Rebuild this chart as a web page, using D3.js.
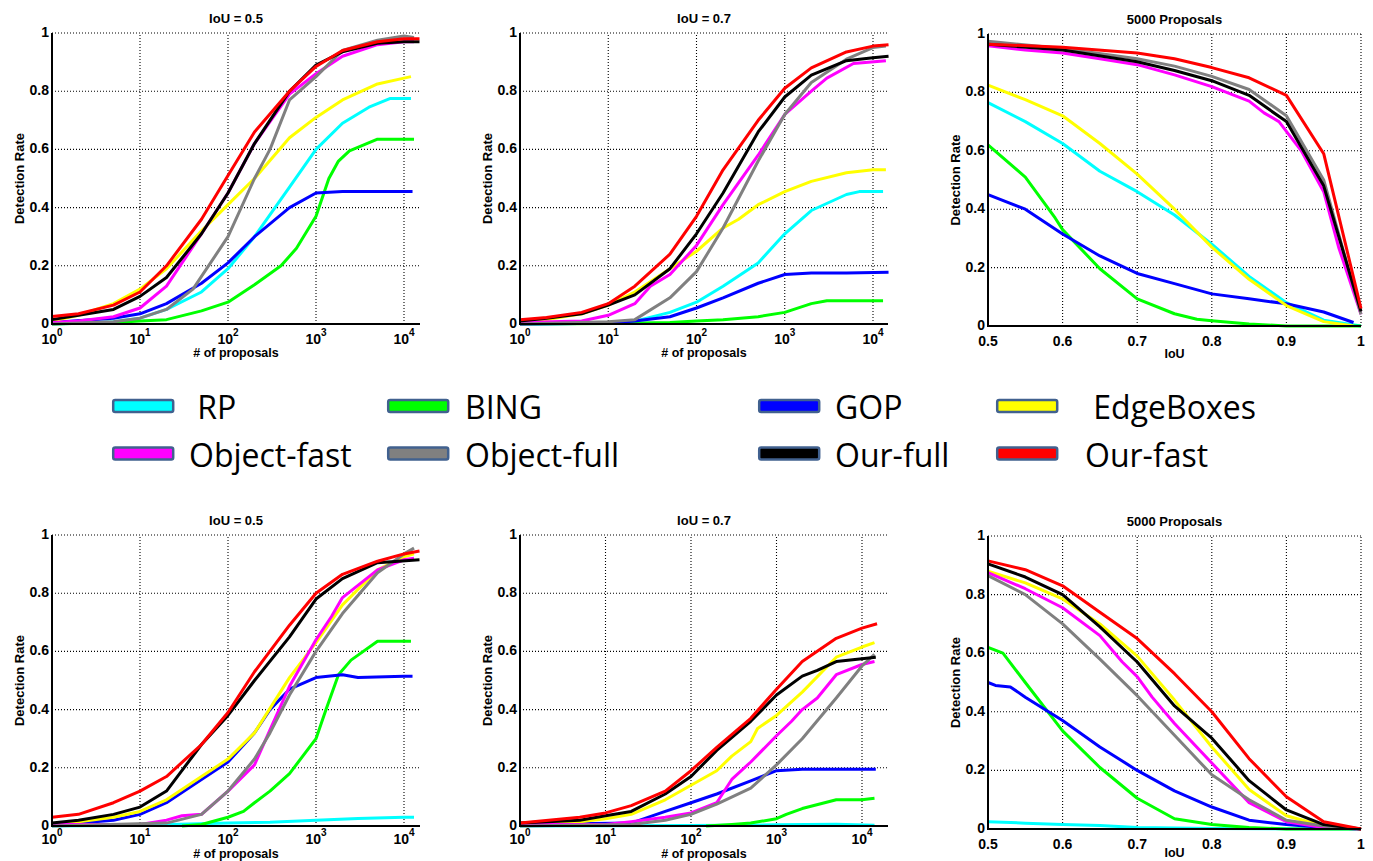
<!DOCTYPE html>
<html>
<head>
<meta charset="utf-8">
<script src="https://cdn.jsdelivr.net/npm/d3@7"></script>
<style>
  html, body { margin: 0; padding: 0; background: #fff; }
  svg { display: block; }
  .tick-lbl { font-family: "Liberation Sans", Arial, sans-serif; font-weight: bold; font-size: 14px; fill: #000; }
  .ttl { font-family: "Liberation Sans", Arial, sans-serif; font-weight: bold; font-size: 13px; fill: #000; }
  .axlbl { font-family: "Liberation Sans", Arial, sans-serif; font-weight: bold; font-size: 13px; fill: #000; }
  .xlbl { font-family: "Liberation Sans", Arial, sans-serif; font-weight: bold; font-size: 12.5px; fill: #000; }
  .leg { font-family: "Open Sans", sans-serif; font-size: 32px; fill: #000; white-space: pre; }
</style>
</head>
<body>
<svg id="chart" width="1373" height="861"></svg>
<script>
// ---------------- DATA ----------------
const methods = ["RP", "BING", "GOP", "EdgeBoxes", "Object-fast", "Object-full", "Our-full", "Our-fast"];
const legendLabels = [" RP", "BING", "GOP", " EdgeBoxes", "Object-fast", "Object-full", "Our-full", "Our-fast"];
const colors = ["#00ffff", "#00ff00", "#0000ff", "#ffff00", "#ff00ff", "#808080", "#000000", "#ff0000"];
const yTicks = [0, 0.2, 0.4, 0.6, 0.8, 1];
const yTickLabels = ["0", "0.2", "0.4", "0.6", "0.8", "1"];
const logTicks = [1, 10, 100, 1000, 10000];
const logTickExps = ["0", "1", "2", "3", "4"];
const iouTicks = [0.5, 0.6, 0.7, 0.8, 0.9, 1];
const iouTickLabels = ["0.5", "0.6", "0.7", "0.8", "0.9", "1"];
const titles = ["IoU = 0.5", "IoU = 0.7", "5000 Proposals", "IoU = 0.5", "IoU = 0.7", "5000 Proposals"];

// Top row, IoU = 0.5 (x: # of proposals)
const topIoU05 = {
  "RP": [[1,0],[2,0.003],[5,0.008],[10,0.02],[20,0.05],[50,0.11],[100,0.19],[200,0.3],[500,0.47],[1000,0.6],[2000,0.69],[4000,0.745],[7000,0.775],[12000,0.775]],
  "BING": [[1,0],[5,0.005],[10,0.01],[20,0.015],[50,0.045],[100,0.075],[200,0.135],[400,0.2],[600,0.26],[1000,0.37],[1400,0.5],[1800,0.56],[2400,0.595],[5000,0.635],[13000,0.635]],
  "GOP": [[1,0.005],[5,0.02],[10,0.035],[20,0.07],[50,0.14],[100,0.21],[200,0.3],[500,0.4],[1000,0.45],[2000,0.455],[5000,0.455],[12500,0.455]],
  "EdgeBoxes": [[1,0.01],[2,0.03],[5,0.07],[10,0.12],[20,0.19],[50,0.32],[100,0.41],[200,0.5],[500,0.64],[1000,0.71],[2000,0.77],[5000,0.825],[10000,0.845],[12000,0.85]],
  "Object-fast": [[1,0.005],[2,0.01],[5,0.025],[10,0.055],[20,0.13],[50,0.31],[100,0.45],[200,0.62],[500,0.79],[1000,0.86],[2000,0.92],[5000,0.96],[10000,0.97],[13000,0.97]],
  "Object-full": [[1,0],[5,0.008],[10,0.02],[20,0.05],[40,0.12],[100,0.3],[200,0.5],[300,0.6],[500,0.77],[1000,0.85],[2000,0.94],[5000,0.975],[10000,0.99],[13000,0.985]],
  "Our-full": [[1,0.015],[2,0.03],[5,0.05],[10,0.095],[20,0.16],[50,0.31],[100,0.45],[200,0.62],[500,0.8],[1000,0.89],[2000,0.935],[5000,0.965],[10000,0.97],[15000,0.97]],
  "Our-fast": [[1,0.026],[2,0.035],[5,0.065],[10,0.11],[20,0.2],[50,0.36],[100,0.51],[200,0.66],[500,0.8],[1000,0.885],[2000,0.94],[5000,0.97],[10000,0.98],[15000,0.98]]
};
// Top row, IoU = 0.7
const topIoU07 = {
  "RP": [[1,0],[10,0.003],[20,0.01],[50,0.04],[100,0.075],[200,0.13],[500,0.21],[1000,0.31],[2000,0.39],[5000,0.445],[7000,0.455],[13000,0.455]],
  "BING": [[1,0],[10,0.002],[50,0.005],[100,0.01],[200,0.015],[500,0.025],[1000,0.04],[2000,0.07],[3000,0.08],[13000,0.08]],
  "GOP": [[1,0],[10,0.003],[20,0.01],[50,0.025],[100,0.055],[200,0.09],[500,0.14],[1000,0.17],[2000,0.175],[5000,0.175],[15000,0.178]],
  "EdgeBoxes": [[1,0.005],[2,0.015],[5,0.035],[10,0.065],[20,0.11],[50,0.19],[100,0.25],[200,0.33],[300,0.36],[500,0.41],[1000,0.455],[2000,0.49],[5000,0.52],[10000,0.53],[14000,0.53]],
  "Object-fast": [[1,0.005],[5,0.01],[10,0.03],[20,0.07],[30,0.13],[50,0.17],[100,0.27],[200,0.41],[500,0.58],[1000,0.72],[2000,0.8],[3000,0.845],[6000,0.895],[14000,0.905]],
  "Object-full": [[1,0],[10,0.008],[20,0.015],[50,0.09],[100,0.18],[200,0.33],[500,0.56],[1000,0.72],[2000,0.83],[5000,0.91],[10000,0.95],[14000,0.955]],
  "Our-full": [[1,0.01],[2,0.02],[5,0.035],[10,0.065],[20,0.1],[50,0.19],[100,0.31],[200,0.45],[500,0.66],[1000,0.78],[2000,0.855],[5000,0.905],[10000,0.915],[15000,0.92]],
  "Our-fast": [[1,0.015],[2,0.022],[5,0.04],[10,0.07],[20,0.13],[50,0.24],[100,0.37],[200,0.53],[500,0.7],[1000,0.81],[2000,0.88],[5000,0.935],[10000,0.955],[15000,0.96]]
};
// Top row, 5000 proposals (x: IoU)
const top5000 = {
  "RP": [[0.5,0.765],[0.55,0.7],[0.6,0.625],[0.65,0.53],[0.7,0.46],[0.75,0.38],[0.8,0.28],[0.85,0.17],[0.9,0.08],[0.95,0.02],[1.0,0]],
  "BING": [[0.5,0.62],[0.55,0.51],[0.59,0.37],[0.6,0.33],[0.65,0.196],[0.7,0.093],[0.75,0.042],[0.78,0.023],[0.8,0.018],[0.85,0.007],[0.9,0],[1.0,0]],
  "GOP": [[0.5,0.45],[0.55,0.4],[0.6,0.315],[0.65,0.24],[0.7,0.18],[0.75,0.145],[0.8,0.11],[0.85,0.093],[0.9,0.076],[0.95,0.048],[0.99,0.012]],
  "EdgeBoxes": [[0.5,0.825],[0.55,0.775],[0.6,0.72],[0.65,0.625],[0.7,0.52],[0.75,0.4],[0.8,0.27],[0.85,0.16],[0.9,0.07],[0.95,0.015],[0.99,0]],
  "Object-fast": [[0.5,0.96],[0.55,0.945],[0.6,0.935],[0.65,0.915],[0.7,0.895],[0.75,0.86],[0.8,0.82],[0.85,0.77],[0.87,0.73],[0.89,0.7],[0.92,0.6],[0.95,0.46],[0.97,0.27],[1.0,0.04]],
  "Object-full": [[0.5,0.975],[0.6,0.95],[0.7,0.915],[0.75,0.89],[0.8,0.855],[0.85,0.81],[0.9,0.72],[0.95,0.5],[1.0,0.04]],
  "Our-full": [[0.5,0.965],[0.6,0.945],[0.7,0.905],[0.75,0.875],[0.8,0.84],[0.85,0.79],[0.9,0.7],[0.95,0.48],[1.0,0.05]],
  "Our-fast": [[0.5,0.965],[0.6,0.955],[0.7,0.935],[0.75,0.915],[0.8,0.885],[0.85,0.85],[0.9,0.79],[0.95,0.59],[1.0,0.06]]
};
// Bottom row, IoU = 0.5
const botIoU05 = {
  "RP": [[1,0],[10,0.003],[100,0.01],[300,0.013],[1000,0.02],[3000,0.026],[10000,0.03],[13000,0.03]],
  "BING": [[30,0],[50,0.005],[100,0.03],[150,0.05],[200,0.08],[300,0.12],[500,0.18],[1000,0.3],[1300,0.4],[1800,0.52],[2500,0.57],[5000,0.635],[12000,0.635]],
  "GOP": [[1,0.005],[2,0.01],[5,0.02],[10,0.04],[20,0.08],[50,0.16],[100,0.22],[200,0.32],[300,0.4],[500,0.47],[1000,0.51],[2000,0.52],[3000,0.51],[10000,0.515],[12500,0.515]],
  "EdgeBoxes": [[1,0.005],[2,0.015],[5,0.03],[10,0.05],[20,0.09],[50,0.17],[100,0.23],[200,0.32],[500,0.51],[1000,0.63],[2000,0.76],[5000,0.88],[10000,0.925],[13000,0.935]],
  "Object-fast": [[1,0.005],[10,0.005],[20,0.02],[30,0.035],[50,0.04],[100,0.12],[200,0.21],[300,0.33],[500,0.48],[1000,0.64],[1500,0.72],[2000,0.785],[5000,0.88],[10000,0.915],[13000,0.92]],
  "Object-full": [[1,0],[20,0.01],[50,0.04],[100,0.12],[200,0.23],[300,0.32],[500,0.45],[1000,0.6],[2000,0.73],[5000,0.87],[10000,0.935],[13000,0.955]],
  "Our-full": [[1,0.01],[2,0.02],[5,0.04],[10,0.065],[20,0.12],[50,0.28],[100,0.38],[200,0.5],[500,0.65],[1000,0.78],[2000,0.85],[5000,0.905],[15000,0.915]],
  "Our-fast": [[1,0.03],[2,0.04],[5,0.08],[10,0.12],[20,0.17],[50,0.28],[100,0.39],[200,0.53],[500,0.69],[1000,0.8],[2000,0.865],[5000,0.91],[10000,0.935],[15000,0.945]]
};
// Bottom row, IoU = 0.7
const botIoU07 = {
  "RP": [[1,0],[100,0.002],[1000,0.004],[5000,0.006],[14000,0.003]],
  "BING": [[150,0],[300,0.005],[500,0.01],[1000,0.025],[1300,0.04],[2000,0.06],[5000,0.09],[10000,0.09],[14000,0.095]],
  "GOP": [[1,0.005],[20,0.01],[50,0.05],[100,0.08],[200,0.11],[500,0.155],[1000,0.19],[2000,0.195],[14500,0.195]],
  "EdgeBoxes": [[1,0.005],[5,0.015],[10,0.025],[20,0.04],[50,0.09],[100,0.14],[200,0.19],[300,0.24],[500,0.29],[600,0.335],[1000,0.38],[2000,0.46],[5000,0.58],[10000,0.615],[14000,0.63]],
  "Object-fast": [[1,0.005],[10,0.005],[20,0.015],[50,0.03],[100,0.045],[200,0.08],[300,0.16],[500,0.22],[1000,0.31],[1500,0.36],[2000,0.4],[3000,0.44],[5000,0.52],[10000,0.555],[14000,0.565]],
  "Object-full": [[1,0],[20,0.005],[50,0.02],[100,0.04],[200,0.075],[500,0.13],[1000,0.21],[2000,0.3],[5000,0.44],[10000,0.55],[14000,0.59]],
  "Our-full": [[1,0.01],[5,0.02],[10,0.035],[20,0.05],[50,0.11],[100,0.17],[200,0.26],[500,0.36],[1000,0.45],[2000,0.515],[3000,0.535],[5000,0.565],[10000,0.575],[14500,0.58]],
  "Our-fast": [[1,0.01],[5,0.03],[10,0.045],[20,0.07],[50,0.12],[100,0.19],[200,0.27],[500,0.37],[1000,0.47],[2000,0.565],[5000,0.645],[10000,0.68],[15000,0.695]]
};
// Bottom row, 5000 proposals
const bot5000 = {
  "RP": [[0.5,0.025],[0.55,0.02],[0.6,0.015],[0.65,0.012],[0.7,0.005],[0.8,0.002],[1.0,0]],
  "BING": [[0.5,0.62],[0.52,0.6],[0.55,0.5],[0.6,0.335],[0.65,0.21],[0.7,0.105],[0.75,0.035],[0.8,0.015],[0.85,0.005],[0.9,0],[1.0,0]],
  "GOP": [[0.5,0.5],[0.51,0.49],[0.53,0.485],[0.55,0.45],[0.6,0.37],[0.65,0.28],[0.7,0.2],[0.75,0.13],[0.8,0.075],[0.85,0.03],[0.9,0.015],[0.95,0.005],[1.0,0]],
  "EdgeBoxes": [[0.5,0.88],[0.55,0.84],[0.6,0.785],[0.65,0.7],[0.7,0.59],[0.75,0.44],[0.8,0.28],[0.85,0.135],[0.9,0.045],[0.95,0.01],[1.0,0]],
  "Object-fast": [[0.5,0.875],[0.55,0.82],[0.6,0.755],[0.65,0.66],[0.67,0.6],[0.68,0.57],[0.7,0.52],[0.72,0.45],[0.75,0.36],[0.8,0.225],[0.85,0.09],[0.9,0.025],[0.95,0.005],[1.0,0]],
  "Object-full": [[0.5,0.865],[0.55,0.8],[0.6,0.7],[0.65,0.58],[0.7,0.455],[0.75,0.32],[0.8,0.185],[0.85,0.1],[0.9,0.03],[0.95,0.01],[1.0,0]],
  "Our-full": [[0.5,0.905],[0.55,0.86],[0.6,0.8],[0.65,0.69],[0.7,0.57],[0.75,0.42],[0.8,0.31],[0.85,0.165],[0.9,0.065],[0.95,0.015],[1.0,0]],
  "Our-fast": [[0.5,0.915],[0.55,0.885],[0.6,0.83],[0.65,0.74],[0.7,0.65],[0.75,0.53],[0.8,0.4],[0.85,0.24],[0.9,0.11],[0.95,0.025],[1.0,0]]
};

// ---------------- LAYOUT ----------------
const panels = [
  { data: topIoU05, type: "log", left: 52,  right: 420,  top: 33,  bottom: 324, xMax: 10000 * Math.pow(10, 16/88), xLabel: "# of proposals", tickOff: 20, labOff: 33 },
  { data: topIoU07, type: "log", left: 520, right: 888,  top: 33,  bottom: 324, xMax: 10000 * Math.pow(10, 15/88.25), xLabel: "# of proposals", tickOff: 20, labOff: 33 },
  { data: top5000,  type: "lin", left: 988, right: 1361, top: 34,  bottom: 326, xLabel: "IoU", tickOff: 20, labOff: 32 },
  { data: botIoU05, type: "log", left: 52,  right: 420,  top: 535, bottom: 826, xMax: 10000 * Math.pow(10, 16/88), xLabel: "# of proposals", tickOff: 18, labOff: 32 },
  { data: botIoU07, type: "log", left: 520, right: 888,  top: 535, bottom: 826, xMax: 10000 * Math.pow(10, 26/85.5), xLabel: "# of proposals", tickOff: 18, labOff: 32 },
  { data: bot5000,  type: "lin", left: 988, right: 1361, top: 536, bottom: 829, xLabel: "IoU", tickOff: 20, labOff: 28 }
];

const svg = d3.select("#chart");

panels.forEach((p, pi) => {
  const x = p.type === "log"
    ? d3.scaleLog().domain([1, p.xMax]).range([p.left, p.right])
    : d3.scaleLinear().domain([0.5, 1]).range([p.left, p.right]);
  const y = d3.scaleLinear().domain([0, 1]).range([p.bottom, p.top]);
  const g = svg.append("g");

  // grid
  const xt = p.type === "log" ? logTicks : iouTicks;
  g.selectAll(".gx").data(xt.filter(v => v !== (p.type === "log" ? 1 : 0.5))).enter().append("line")
    .attr("x1", d => x(d)).attr("x2", d => x(d))
    .attr("y1", p.bottom).attr("y2", p.top)
    .attr("stroke", "#000").attr("stroke-width", 1.1).attr("stroke-dasharray", "1,2");
  g.selectAll(".gy").data(yTicks.filter(v => v !== 0)).enter().append("line")
    .attr("x1", p.left).attr("x2", p.right)
    .attr("y1", d => y(d)).attr("y2", d => y(d))
    .attr("stroke", "#000").attr("stroke-width", 1.1).attr("stroke-dasharray", "1,2");

  // lines
  const line = d3.line().x(d => x(d[0])).y(d => y(d[1]));
  methods.forEach((m, i) => {
    g.append("path").datum(p.data[m])
      .attr("d", line)
      .attr("fill", "none")
      .attr("stroke", colors[i])
      .attr("stroke-width", 3)
      .attr("stroke-linejoin", "round");
  });

  // axes lines
  g.append("line").attr("x1", p.left).attr("x2", p.left).attr("y1", p.top).attr("y2", p.bottom)
    .attr("stroke", "#000").attr("stroke-width", 2);
  g.append("line").attr("x1", p.left - 1).attr("x2", p.right).attr("y1", p.bottom).attr("y2", p.bottom)
    .attr("stroke", "#000").attr("stroke-width", 2);

  // y tick labels
  g.selectAll(".yl").data(yTicks).enter().append("text")
    .attr("class", "tick-lbl")
    .attr("x", p.left - 3).attr("y", d => y(d) + 4)
    .attr("text-anchor", "end")
    .text((d, i) => yTickLabels[i]);

  // x tick labels
  if (p.type === "log") {
    logTicks.forEach((t, i) => {
      const tx = g.append("text").attr("class", "tick-lbl")
        .attr("x", x(t)).attr("y", p.bottom + p.tickOff).attr("text-anchor", "middle");
      tx.append("tspan").text("10");
      tx.append("tspan").attr("dy", -8).attr("font-size", "10px").text(logTickExps[i]);
    });
  } else {
    iouTicks.forEach((t, i) => {
      g.append("text").attr("class", "tick-lbl")
        .attr("x", x(t)).attr("y", p.bottom + p.tickOff).attr("text-anchor", "middle")
        .text(iouTickLabels[i]);
    });
  }

  // title
  g.append("text").attr("class", "ttl")
    .attr("x", (p.left + p.right) / 2).attr("y", p.top - 10)
    .attr("text-anchor", "middle").text(titles[pi]);

  // axis labels
  g.append("text").attr("class", "axlbl")
    .attr("transform", `translate(${p.left - 28},${(p.top + p.bottom) / 2}) rotate(-90)`)
    .attr("text-anchor", "middle").text("Detection Rate");
  g.append("text").attr("class", "xlbl")
    .attr("x", (p.left + p.right) / 2).attr("y", p.bottom + p.labOff)
    .attr("text-anchor", "middle").text(p.xLabel);
});

// ---------------- LEGEND ----------------
const legSwatchX = [112, 387, 758, 996];
const legTextX = [189, 465, 835, 1085];
const legRowY = [406, 453.5];
legendLabels.forEach((lab, i) => {
  const col = i % 4, row = Math.floor(i / 4);
  svg.append("rect")
    .attr("x", legSwatchX[col] + 1.2).attr("y", legRowY[row] - 6)
    .attr("width", 60).attr("height", 12)
    .attr("rx", 2).attr("ry", 2)
    .attr("fill", colors[i])
    .attr("stroke", "#41618f").attr("stroke-width", 2.5);
  svg.append("text").attr("class", "leg")
    .attr("x", legTextX[col]).attr("y", legRowY[row] + 13)
    .text(lab);
});
</script>
</body>
</html>
